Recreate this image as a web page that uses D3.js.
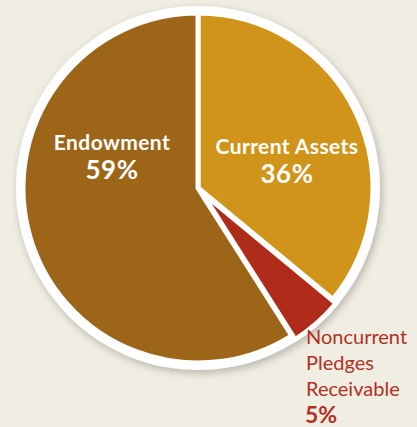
<!DOCTYPE html>
<html lang="en">
<head>
<meta charset="UTF-8">
<title>Assets Pie</title>
<style>
  html, body { margin: 0; padding: 0; background: #f0ede2; }
  svg { display: block; }
</style>
</head>
<body>
<svg id="chart" width="417" height="427"></svg>
<script src="https://cdn.jsdelivr.net/npm/d3@7"></script>
<script>
/* global d3 */

// data
var categories = ["Current Assets", "Noncurrent Pledges Receivable", "Endowment"];
var shares = [36, 5, 59];
var colors = ["#d0941a", "#b02c1a", "#9c6517"];

var svg = d3.select("#chart"),
    cx = 198, cy = 188,
    ringR = 182, pieR = 175;

var defs = svg.append("defs");
var shadow = defs.append("filter").attr("id", "shadow")
    .attr("x", "-20%").attr("y", "-20%").attr("width", "140%").attr("height", "140%");
shadow.append("feGaussianBlur").attr("in", "SourceAlpha").attr("stdDeviation", 4);
shadow.append("feOffset").attr("dx", 2).attr("dy", 3).attr("result", "b");
shadow.append("feComponentTransfer").append("feFuncA").attr("type", "linear").attr("slope", 0.25);
var merge = shadow.append("feMerge");
merge.append("feMergeNode");
merge.append("feMergeNode").attr("in", "SourceGraphic");

var g = svg.append("g").attr("transform", "translate(" + cx + "," + cy + ")");

// white ring behind pie
g.append("circle").attr("r", ringR).attr("fill", "#fff").attr("filter", "url(#shadow)");

var pie = d3.pie().sort(null).value(d => d)(shares);
var arc = d3.arc().innerRadius(0).outerRadius(pieR);

g.selectAll("path.slice").data(pie).join("path")
    .attr("class", "slice")
    .attr("d", arc)
    .attr("transform", (d, i) => {
        if (i !== 1) return null;
        var c = arc.centroid(d), k = Math.hypot(c[0], c[1]);
        return "translate(" + (c[0] / k * 5) + "," + (c[1] / k * 5) + ")";
    })
    .attr("fill", (d, i) => colors[i])
    .attr("stroke", "#fff")
    .attr("stroke-width", 5)
    .attr("stroke-linejoin", "miter");

// inside labels
var font = "Lato, 'Open Sans', sans-serif";
function inLabel(name, pct, x, y) {
    svg.append("text").attr("x", x).attr("y", y)
        .attr("text-anchor", "middle").attr("fill", "#fff")
        .attr("font-family", font).attr("font-weight", 700).attr("font-size", 21)
        .attr("letter-spacing", 0.4)
        .text(name);
    svg.append("text").attr("x", x).attr("y", y + 29)
        .attr("text-anchor", "middle").attr("fill", "#fff")
        .attr("font-family", font).attr("font-weight", 700).attr("font-size", 26)
        .attr("letter-spacing", 0.5)
        .text(pct + "%");
}
inLabel(categories[2], shares[2], 112, 150);
inLabel("Current Assets", shares[0], 287, 154);

// outside label for small slice
var red = "#b3301f";
var lines = ["Noncurrent", "Pledges", "Receivable"];
var ol = svg.append("text").attr("x", 306).attr("y", 344)
    .attr("fill", red).attr("font-family", font).attr("font-size", 20);
lines.forEach((t, i) => ol.append("tspan").attr("x", 306).attr("y", 344 + i * 26).text(t));
svg.append("text").attr("x", 305).attr("y", 423)
    .attr("fill", red).attr("font-family", font).attr("font-weight", 700).attr("font-size", 23)
    .text(shares[1] + "%");
</script>
</body>
</html>
